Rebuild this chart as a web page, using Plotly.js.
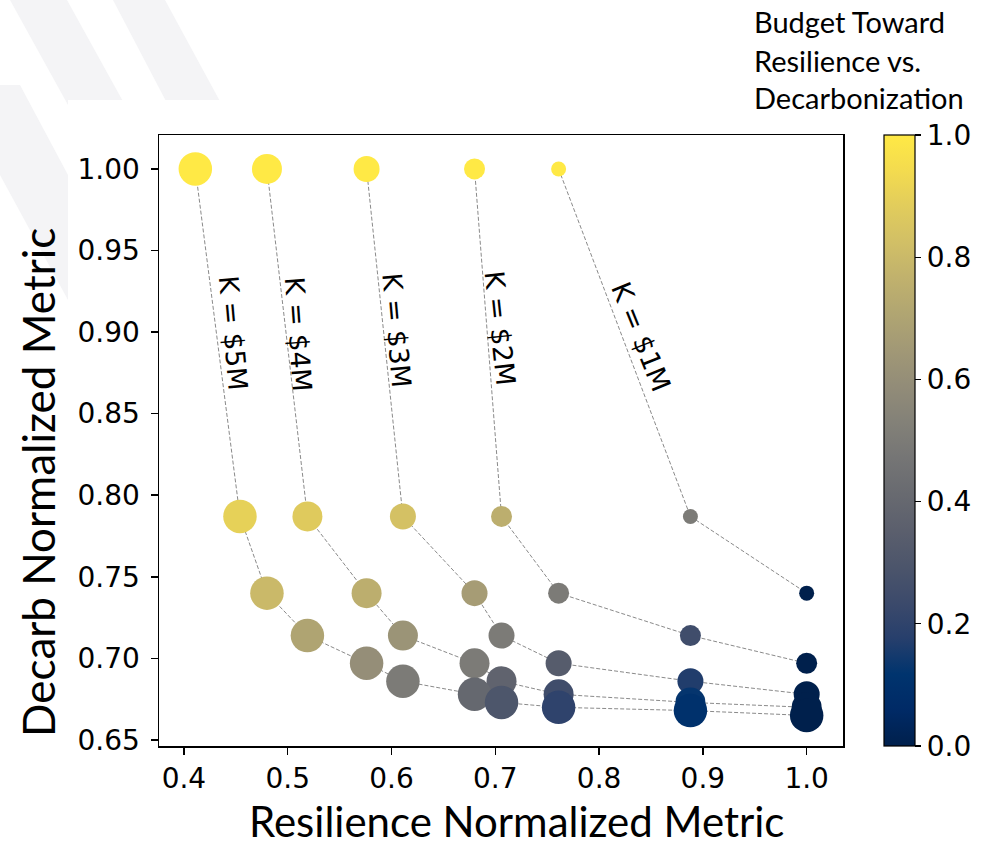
<!DOCTYPE html>
<html>
<head>
<meta charset="utf-8">
<script src="https://cdn.plot.ly/plotly-3.0.1.min.js"></script>
<style>html,body{margin:0;padding:0;background:#fff;}#chart{width:990px;height:848px;}</style>
</head>
<body>
<div id="chart"></div>
<script>
// ---- data ----
const kLabels = ["K = $1M", "K = $2M", "K = $3M", "K = $4M", "K = $5M"];

const res_K1 = [0.761, 0.888, 1.000];
const dec_K1 = [1.000, 0.787, 0.740];
const frac_K1 = [1.0, 0.5, 0.0];

const res_K2 = [0.680, 0.706, 0.761, 0.888, 1.000];
const dec_K2 = [1.000, 0.787, 0.740, 0.714, 0.697];
const frac_K2 = [1.0, 0.75, 0.5, 0.25, 0.0];

const res_K3 = [0.576, 0.611, 0.680, 0.706, 0.761, 0.888, 1.000];
const dec_K3 = [1.000, 0.787, 0.740, 0.714, 0.697, 0.686, 0.678];
const frac_K3 = [1.0, 0.833, 0.667, 0.5, 0.333, 0.167, 0.0];

const res_K4 = [0.480, 0.519, 0.576, 0.611, 0.680, 0.706, 0.761, 0.888, 1.000];
const dec_K4 = [1.000, 0.787, 0.740, 0.714, 0.697, 0.686, 0.678, 0.673, 0.670];
const frac_K4 = [1.0, 0.875, 0.75, 0.625, 0.5, 0.375, 0.25, 0.125, 0.0];

const res_K5 = [0.411, 0.454, 0.480, 0.519, 0.576, 0.611, 0.680, 0.706, 0.761, 0.888, 1.000];
const dec_K5 = [1.000, 0.787, 0.740, 0.714, 0.697, 0.686, 0.678, 0.673, 0.670, 0.668, 0.665];
const frac_K5 = [1.0, 0.9, 0.8, 0.7, 0.6, 0.5, 0.4, 0.3, 0.2, 0.1, 0.0];

// label anchor positions (data coords) and angles
const labelX = [0.840, 0.705, 0.605, 0.510, 0.448];
const labelY = [0.897, 0.9025, 0.901, 0.899, 0.8994];
const labelAngle = [68, 84, 85, 86, 85];

const xTitle = 'Resilience Normalized Metric';
const yTitle = 'Decarb Normalized Metric';
const cbTitle = ['Budget Toward', 'Resilience vs.', 'Decarbonization'];

const markerSizes = [15, 21, 26, 30, 33.5];

const seriesRes = [res_K1, res_K2, res_K3, res_K4, res_K5];
const seriesDec = [dec_K1, dec_K2, dec_K3, dec_K4, dec_K5];
const seriesFrac = [frac_K1, frac_K2, frac_K3, frac_K4, frac_K5];

const traces = [];
// dashed connecting lines (below all markers)
for (let i = 0; i < 5; i++) {
  traces.push({
    type: 'scatter', mode: 'lines', x: seriesRes[i], y: seriesDec[i],
    line: {color: '#8a8a8a', width: 1, dash: '4px,2px'},
    hoverinfo: 'skip', showlegend: false
  });
}
// markers coloured by budget fraction
for (let i = 0; i < 5; i++) {
  const m = {
    size: markerSizes[i], color: seriesFrac[i], colorscale: 'Cividis',
    cmin: 0, cmax: 1, opacity: 1, line: {width: 0}
  };
  if (i === 4) {
    m.showscale = true;
    m.colorbar = {
      x: 1.06, xanchor: 'left', xref: 'paper', y: 0.5, yanchor: 'middle', len: 1.0, lenmode: 'fraction',
      thickness: 31, thicknessmode: 'pixels', outlinewidth: 1.2, outlinecolor: '#000',
      tickmode: 'array', tickvals: [0, 0.2, 0.4, 0.6, 0.8, 1.0], ticktext: ['0.0', '0.2', '0.4', '0.6', '0.8', '1.0'],
      ticks: 'outside', ticklen: 6, tickwidth: 1.2, tickcolor: '#000',
      tickfont: {family: 'DejaVu Sans', size: 28, color: '#000'}, xpad: 0, ypad: 0
    };
  }
  traces.push({
    type: 'scatter', mode: 'markers', x: seriesRes[i], y: seriesDec[i],
    marker: m, name: kLabels[i], showlegend: false
  });
}

function px(xp) { return (xp - 159) / 684; }
function py(yp) { return (746 - yp) / 611; }

const annotations = [];
for (let i = 0; i < 5; i++) {
  annotations.push({
    x: labelX[i], y: labelY[i], xref: 'x', yref: 'y', text: kLabels[i].replace('$', '&#36;'),
    showarrow: false, textangle: labelAngle[i],
    font: {family: 'DejaVu Sans', size: 27, color: '#000'}
  });
}
const cbTitleY = [22, 60, 98];
for (let i = 0; i < 3; i++) {
  annotations.push({
    x: px(752), y: py(cbTitleY[i]), xref: 'paper', yref: 'paper',
    xanchor: 'left', yanchor: 'middle', text: cbTitle[i], showarrow: false,
    font: {family: 'Lato', size: 29, color: '#000'}
  });
}
// axis titles (placed like the reference, which is offset from the axis centre)
annotations.push({
  x: px(516), y: py(848), xref: 'paper', yref: 'paper', xanchor: 'center', yanchor: 'bottom',
  text: xTitle, showarrow: false, font: {family: 'Lato', size: 42, color: '#000'}
});
annotations.push({
  x: px(38), y: py(483), xref: 'paper', yref: 'paper', xanchor: 'center', yanchor: 'middle',
  text: yTitle, showarrow: false, textangle: -90, font: {family: 'Lato', size: 44, color: '#000'}
});

const stripe = '#f4f4f6';
const shapes = [
  {type: 'path', xref: 'paper', yref: 'paper', layer: 'below', line: {width: 0}, fillcolor: stripe,
   path: `M ${px(10)} ${py(0)} L ${px(67)} ${py(0)} L ${px(125)} ${py(105)} L ${px(68)} ${py(105)} Z`},
  {type: 'path', xref: 'paper', yref: 'paper', layer: 'below', line: {width: 0}, fillcolor: stripe,
   path: `M ${px(113)} ${py(0)} L ${px(165)} ${py(0)} L ${px(222)} ${py(105)} L ${px(168)} ${py(105)} Z`},
  {type: 'path', xref: 'paper', yref: 'paper', layer: 'below', line: {width: 0}, fillcolor: stripe,
   path: `M ${px(0)} ${py(85)} L ${px(20)} ${py(85)} L ${px(68)} ${py(175)} L ${px(68)} ${py(300)} L ${px(0)} ${py(175)} Z`},
  {type: 'rect', xref: 'paper', yref: 'paper', layer: 'below', line: {width: 0}, fillcolor: '#ffffff',
   x0: px(68), x1: px(990), y0: py(848), y1: py(100)}
];

const layout = {
  width: 990, height: 848,
  margin: {l: 159, r: 147, t: 135, b: 102, autoexpand: false},
  paper_bgcolor: 'rgba(0,0,0,0)', plot_bgcolor: '#ffffff',
  showlegend: false,
  xaxis: {
    range: [0.376, 1.035], tickmode: 'array', tickvals: [0.4, 0.5, 0.6, 0.7, 0.8, 0.9, 1.0],
    ticktext: ['0.4', '0.5', '0.6', '0.7', '0.8', '0.9', '1.0'],
    showgrid: false, zeroline: false, showline: true, mirror: true, linecolor: '#000', linewidth: 1.5,
    ticks: 'outside', ticklen: 7, tickwidth: 1.5, tickcolor: '#000', ticklabelstandoff: 0,
    tickfont: {family: 'DejaVu Sans', size: 28, color: '#000'}
  },
  yaxis: {
    range: [0.6463, 1.0208], tickmode: 'array', tickvals: [0.65, 0.70, 0.75, 0.80, 0.85, 0.90, 0.95, 1.00],
    ticktext: ['0.65', '0.70', '0.75', '0.80', '0.85', '0.90', '0.95', '1.00'],
    showgrid: false, zeroline: false, showline: true, mirror: true, linecolor: '#000', linewidth: 1.5,
    ticks: 'outside', ticklen: 7, tickwidth: 1.5, tickcolor: '#000', ticklabelstandoff: 5,
    tickfont: {family: 'DejaVu Sans', size: 28, color: '#000'}
  },
  annotations: annotations,
  shapes: shapes
};

Plotly.newPlot('chart', traces, layout, {displayModeBar: false, staticPlot: true});
</script>
</body>
</html>
